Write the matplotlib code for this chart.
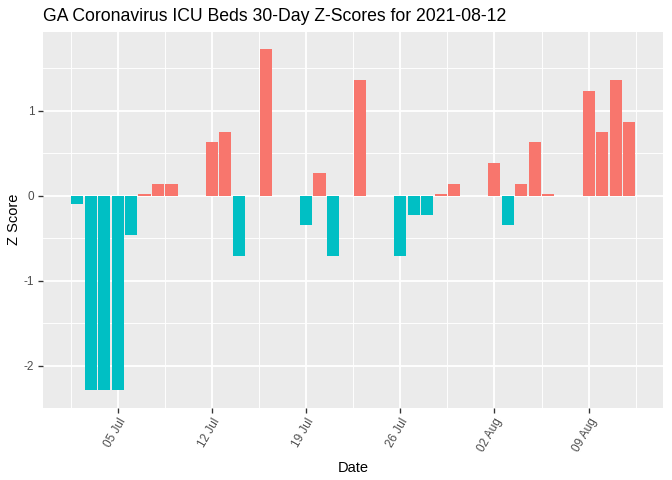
import matplotlib
matplotlib.use("Agg")
import matplotlib.pyplot as plt
import matplotlib.dates as mdates
from matplotlib.ticker import FixedLocator
import numpy as np
import pandas as pd

plt.rcParams['font.family'] = ['Liberation Sans', 'DejaVu Sans']

dates = ["2021-07-02", "2021-07-03", "2021-07-04", "2021-07-05", "2021-07-06",
         "2021-07-07", "2021-07-08", "2021-07-09", "2021-07-12", "2021-07-13",
         "2021-07-14", "2021-07-16", "2021-07-19", "2021-07-20", "2021-07-21",
         "2021-07-23", "2021-07-26", "2021-07-27", "2021-07-28", "2021-07-29",
         "2021-07-30", "2021-08-02", "2021-08-03", "2021-08-04", "2021-08-05",
         "2021-08-06", "2021-08-09", "2021-08-10", "2021-08-11", "2021-08-12"]
z_scores = [-0.10, -2.29, -2.29, -2.29, -0.467,
            0.024, 0.141, 0.141, 0.635, 0.753,
            -0.706, 1.729, -0.341, 0.271, -0.706,
            1.365, -0.706, -0.224, -0.224, 0.024,
            0.141, 0.388, -0.341, 0.141, 0.635,
            0.024, 1.235, 0.753, 1.365, 0.871]
tick_dates = ["2021-07-05", "2021-07-12", "2021-07-19", "2021-07-26", "2021-08-02", "2021-08-09"]
tick_labels = ["05 Jul", "12 Jul", "19 Jul", "26 Jul", "02 Aug", "09 Aug"]
y_ticks = [-2, -1, 0, 1]
y_tick_labels = ["-2", "-1", "0", "1"]

POS = "#F8766D"
NEG = "#00BFC4"

x = mdates.date2num(pd.to_datetime(dates))
y = np.array(z_scores)
colors = [POS if v > 0 else NEG for v in y]

fig = plt.figure(figsize=(7, 5), dpi=96)
ax = fig.add_axes([0.0640, 0.151, 0.9230, 0.783])
ax.set_facecolor("#EBEBEB")

ax.bar(x, y, width=0.9, color=colors, zorder=3)

# limits with ggplot-like 5% expansion
xlo, xhi = x.min() - 0.45, x.max() + 0.45
xr = xhi - xlo
ax.set_xlim(xlo - 0.05 * xr, xhi + 0.05 * xr)
ylo, yhi = min(0, y.min()), max(0, y.max())
yr = yhi - ylo
ax.set_ylim(ylo - 0.05 * yr, yhi + 0.05 * yr)

xt = mdates.date2num(pd.to_datetime(tick_dates))
ax.set_xticks(xt)
ax.set_xticklabels(tick_labels, rotation=60, ha='right', va='top',
                   rotation_mode='anchor', color="#4D4D4D", fontsize=8.8)
ax.set_yticks(y_ticks)
ax.set_yticklabels(y_tick_labels, color="#4D4D4D", fontsize=8.8)

minor_x = list(xt - 3.5) + [xt[-1] + 3.5]
ax.xaxis.set_minor_locator(FixedLocator(minor_x))
ax.yaxis.set_minor_locator(FixedLocator([-2.5, -1.5, -0.5, 0.5, 1.5]))

ax.grid(which='major', color='white', linewidth=1.4, zorder=0)
ax.grid(which='minor', color='white', linewidth=0.7, zorder=0)
ax.set_axisbelow(True)

ax.tick_params(which='major', length=3.5, width=1.0, color="#333333", pad=3)
ax.tick_params(which='minor', length=0)
for s in ax.spines.values():
    s.set_visible(False)

ax.set_xlabel("Date", fontsize=11, labelpad=5)
ax.set_ylabel("Z Score", fontsize=11, labelpad=2)
fig.text(0.0640, 0.966, "GA Coronavirus ICU Beds 30-Day Z-Scores for 2021-08-12",
         fontsize=13.2, ha='left', va='center')

fig.savefig("out.png", dpi=96)
